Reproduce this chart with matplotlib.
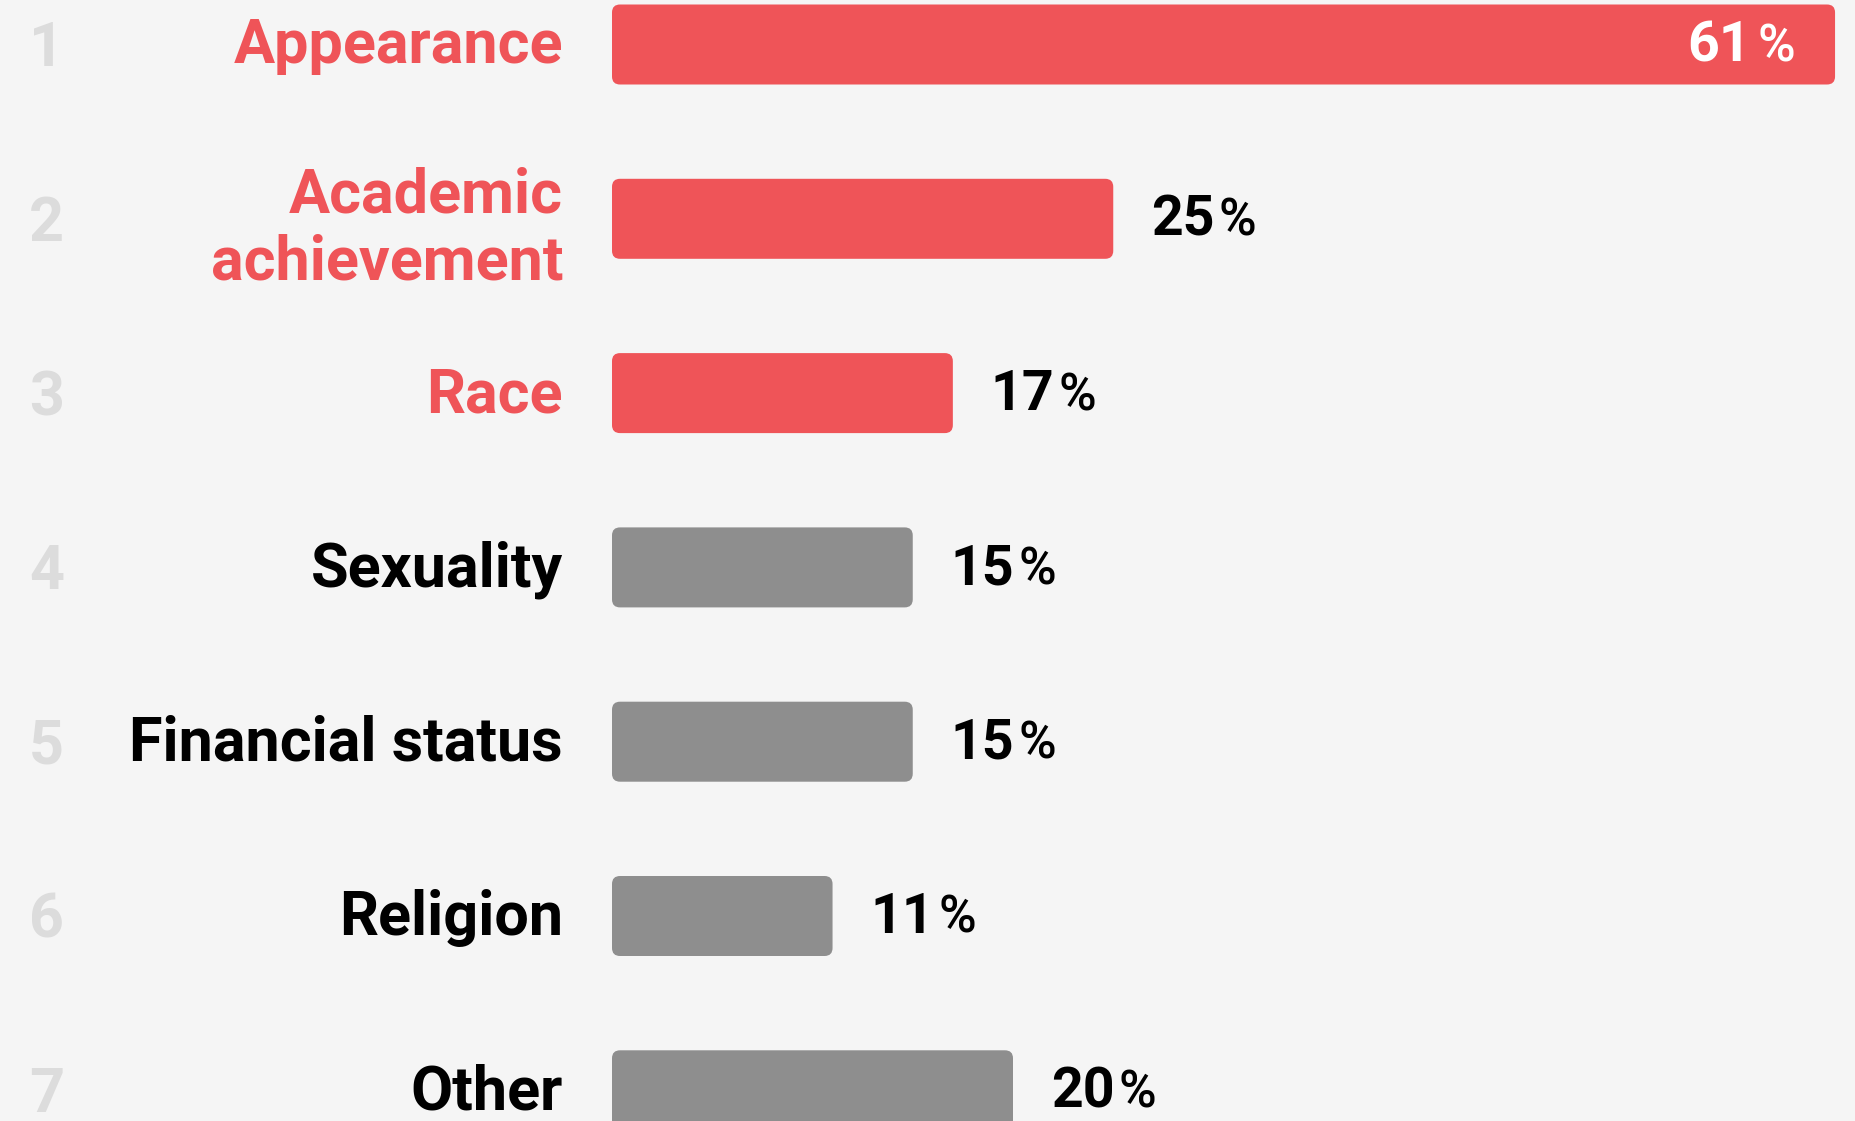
import matplotlib
matplotlib.use("Agg")
import matplotlib.pyplot as plt
from matplotlib.patches import FancyBboxPatch

# ---- data ----
ranks = ["1", "2", "3", "4", "5", "6", "7"]
categories = ["Appearance", "Academic\nachievement", "Race", "Sexuality",
              "Financial status", "Religion", "Other"]
values = [61, 25, 17, 15, 15, 11, 20]
highlight = [True, True, True, False, False, False, False]

RED = "#EF5458"
GRAY = "#8E8E8E"
RANK_COL = "#DCDCDC"
BG = "#F5F5F5"
TXT = "#000000"

W, H = 1856, 1121
DPI = 100
fig = plt.figure(figsize=(W / DPI, H / DPI), dpi=DPI, facecolor=BG)
ax = fig.add_axes([0, 0, 1, 1], facecolor=BG)
ax.set_axis_off()

# pixel geometry
x0_px = 612.0
ppu_x = 20.05       # pixels per percent
y0_px = 44.5
ppu_y = 174.3       # pixels per category step
ax.set_xlim(-x0_px / ppu_x, (W - x0_px) / ppu_x)
ax.set_ylim((H - y0_px) / ppu_y, -y0_px / ppu_y)

bar_h = 80 / ppu_y
rs = 8 / ppu_x
aspect = ppu_x / ppu_y

FAM = ["Roboto", "DejaVu Sans"]

vmax = max(values)
for i, (r, c, v, hl) in enumerate(zip(ranks, categories, values, highlight)):
    col = RED if hl else GRAY
    patch = FancyBboxPatch((0, i - bar_h / 2), v, bar_h,
                           boxstyle=f"round,pad=0,rounding_size={rs}",
                           mutation_aspect=aspect, facecolor=col,
                           edgecolor="none")
    ax.add_patch(patch)

    # rank number
    ax.text(-28.2, i + 22 / ppu_y, r, ha="center", va="baseline",
            fontsize=44, color=RANK_COL, family=FAM, fontweight="bold")

    # category label
    if "\n" in c:
        ax.text(-2.44, i + 61 / ppu_y, c, ha="right", va="baseline",
                multialignment="right", linespacing=1.2,
                fontsize=44, color=RED if hl else TXT, family=FAM,
                fontweight="bold")
    else:
        ax.text(-2.44, i + 19 / ppu_y, c, ha="right", va="baseline",
                fontsize=44, color=RED if hl else TXT, family=FAM,
                fontweight="bold")

    yb = i + 17 / ppu_y
    if v == vmax:
        pct = ax.text(v - 40 / ppu_x, yb, "%", ha="right", va="baseline",
                      fontsize=37, color="white", family=FAM,
                      fontweight="medium")
        ax.annotate(f"{v}", xy=(0, yb), xycoords=(pct, "data"),
                    xytext=(-6, 0), textcoords="offset pixels",
                    ha="right", va="baseline", fontsize=40, color="white",
                    family=FAM, fontweight="bold")
    else:
        num = ax.text(v + 38 / ppu_x, yb, f"{v}", ha="left", va="baseline",
                      fontsize=40, color=TXT, family=FAM, fontweight="bold")
        ax.annotate("%", xy=(1, yb), xycoords=(num, "data"),
                    xytext=(4, 0), textcoords="offset pixels",
                    ha="left", va="baseline", fontsize=37, color=TXT,
                    family=FAM, fontweight="medium")

fig.savefig("out.png", dpi=DPI, facecolor=BG)
